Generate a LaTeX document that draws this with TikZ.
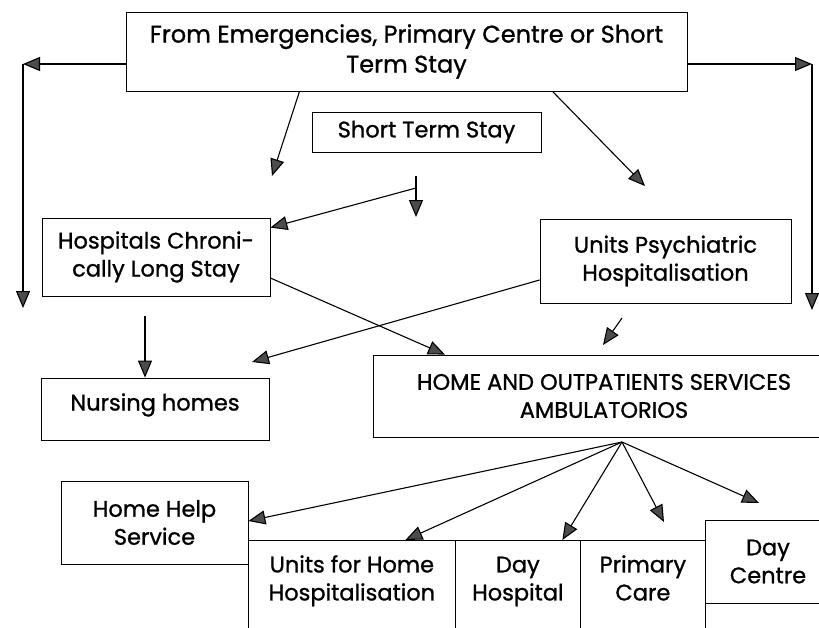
\documentclass[tikz,border=0pt]{standalone}
\usepackage{fontspec}
\setmainfont{Poppins}[FakeBold = 1]
\usetikzlibrary{arrows.meta}
\tikzset{
  box/.style = {draw = black, line width = 0.8pt, align = center, inner sep = 2pt, font = \fontsize{22.5}{28}\selectfont},
  cell/.style = {box, anchor = north west, minimum height = 100pt, text height = 30pt, text depth = 10pt},
  arr/.style = {line width = 1.1pt, -{Triangle[length = 17pt, width = 14pt, fill = black!70]}},
}
\begin{document}
\begin{tikzpicture}[x = 1pt, y = -1pt]
\useasboundingbox (0,0) rectangle (819,627);
\node[box, minimum width = 561pt, minimum height = 79pt, font = \fontsize{24}{30}\selectfont] (top) at (406.5,51.5) {From Emergencies, Primary Centre or Short\\Term Stay};
\node[box, minimum width = 229pt, minimum height = 40pt] (sts) at (426.5,132) {Short Term Stay};
\node[box, minimum width = 228pt, minimum height = 78pt] (hosp) at (156,257) {Hospitals Chroni-\\cally Long Stay};
\node[box, minimum width = 251pt, minimum height = 84pt] (units) at (665.5,261) {Units Psychiatric\\Hospitalisation};
\node[box, minimum width = 228pt, minimum height = 62pt, text height = 18pt, text depth = 15pt] (nurse) at (155,409) {Nursing homes};
\node[box, minimum width = 462pt, minimum height = 82pt] (home) at (604,396) {HOME AND OUTPATIENTS SERVICES\\AMBULATORIOS};
\node[box, minimum width = 187pt, minimum height = 83pt] (help) at (154.5,522.5) {Home Help\\Service};
\foreach \x/\w/\n/\t in {248/207/uhh/{Units for Home\\Hospitalisation}, 455/125/dh/{Day\\Hospital}, 580/125/pc/{Primary\\Care}}
  \node[cell, minimum width = \w pt] (\n) at (\x,540) {\t};
\node[box, minimum width = 126pt, minimum height = 83pt] (dc) at (768,561.5) {Day\\Centre};
\coordinate (lt) at (23,64);
\coordinate (lb) at (23,308);
\coordinate (rt) at (812,64);
\coordinate (rb) at (812,310);
\draw[arr] (top.west |- lt) -- (lt);
\draw[arr] (lt) -- (lb);
\draw[arr] (top.east |- rt) -- (rt);
\draw[arr] (rt) -- (rb);
\coordinate (a1) at (272,176);
\coordinate (a2) at (645,186);
\draw[arr] ([xshift = -107pt]top.south) -- (a1);
\draw[arr] ([xshift = 146pt]top.south) -- (a2);
\coordinate (s1) at (416,176);
\coordinate (s2) at (416,217);
\coordinate (s3) at (416,188);
\draw[arr] (s1) -- (s2);
\draw[arr] (s3) -- ([yshift = -10pt]hosp.north east);
\draw[arr] ([yshift = -21pt]hosp.east) -- ([xshift = -159pt]home.north);
\coordinate (n3) at (252,362);
\draw[arr] ([yshift = -19pt]units.west) -- (n3);
\coordinate (h1) at (622,318);
\coordinate (h2) at (603,345);
\draw[arr] (h1) -- (h2);
\coordinate (n1) at (145,316);
\draw[arr] (n1) -- (nurse.north -| n1);
\coordinate (f0) at (622,442);
\coordinate (p1) at (664,522);
\coordinate (p2) at (759,503);
\draw[arr] (f0) -- ([yshift = 1.5pt]help.east);
\draw[arr] (f0) -- ([xshift = 53.5pt]uhh.north);
\draw[arr] (f0) -- ([xshift = 44.5pt]dh.north);
\draw[arr] (f0) -- (p1);
\draw[arr] (f0) -- (p2);
\end{tikzpicture}
\end{document}
